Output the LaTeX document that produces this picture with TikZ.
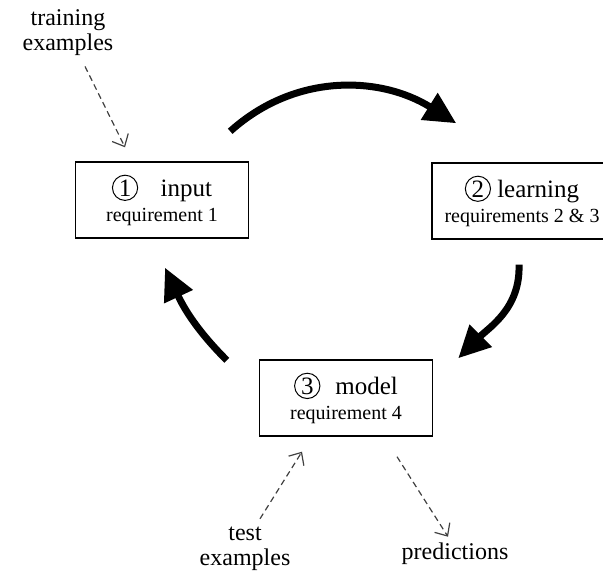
\documentclass[tikz,border=0pt]{standalone}
\usepackage{fontspec}
\setmainfont{Liberation Serif}
\usepackage{tikz}
\usetikzlibrary{arrows.meta}

\newcommand{\stepnum}[1]{\tikz[baseline=(c.base)]\node[draw,circle,minimum width=0pt,minimum height=0pt,inner sep=0.8pt,line width=0.5pt](c){#1};}
\newcommand{\reqfont}{\fontsize{10}{11}\selectfont}

\tikzset{
  stage/.style={draw,line width=0.7pt,minimum width=86.5pt,minimum height=38pt,align=center,font=\fontsize{12.5}{13.5}\selectfont},
  label/.style={align=center,font=\fontsize{12}{12.5}\selectfont,inner sep=1pt},
  cycle/.style={line width=3.5pt,-{Triangle[length=16pt,width=15pt]}},
  feed/.style={densely dashed,line width=0.6pt,draw=black!75,-{Straight Barb[length=5pt,width=9pt]}}
}

\begin{document}
\begin{tikzpicture}[x=0.5pt,y=0.5pt]
    \clip (0,0) rectangle (603,-571);
    % the three stages
    \node[stage] (in) at (162,-200) {\stepnum{1}\hspace{0.9em}input\\[-1pt]{\reqfont requirement 1}};
    \node[stage,minimum width=90pt] (learn) at (522,-201) {\stepnum{2} learning\\[-1pt]{\reqfont requirements 2 \& 3}};
    \node[stage] (model) at (346,-398) {\stepnum{3}\hspace{0.6em}model\\[-1pt]{\reqfont requirement 4}};
    % outside data
    \node[label] (train) at (68,-33) {training\\examples};
    \node[label] (test) at (245,-549) {test\\examples};
    \node[label] (pred) at (455,-554) {predictions};
    % main cycle
    \draw[cycle] ([shift={(-19,30)}]in.north east) to[out=42,in=148] ([shift={(25,39)}]learn.north west);
    \draw[cycle] ([shift={(-3,-25)}]learn.south) to[out=-88,in=45] ([shift={(25,1)}]model.north east);
    \draw[cycle] ([shift={(-32,-1)}]model.north west) to[out=135,in=-65] ([shift={(3,-29)}]in.south);
    % dashed feeds
    \draw[feed] ([shift={(17,-8)}]train.south) -- ([shift={(-37,14)}]in.north);
    \draw[feed] ([shift={(15,6)}]test.north) -- ([shift={(-44,-15)}]model.south);
    \draw[feed] ([shift={(51,-20)}]model.south) -- ([shift={(-7,4)}]pred.north);
\end{tikzpicture}
\end{document}
